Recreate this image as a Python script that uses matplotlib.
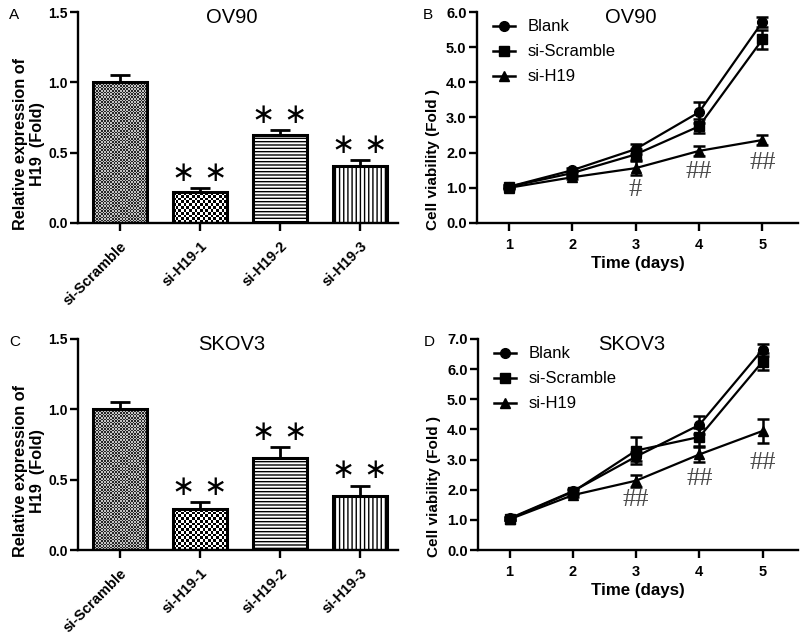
import matplotlib
matplotlib.use("Agg")
import matplotlib.pyplot as plt
from matplotlib.colors import ListedColormap
from matplotlib.lines import Line2D
import numpy as np

plt.rcParams['font.family'] = ['Liberation Sans', 'DejaVu Sans']
plt.rcParams['hatch.linewidth'] = 1.0

# ---- data ----
bar_groups = ["si-Scramble", "si-H19-1", "si-H19-2", "si-H19-3"]
ov90_expr = [1.00, 0.22, 0.625, 0.405]
ov90_err = [0.055, 0.027, 0.035, 0.042]
skov3_expr = [1.00, 0.29, 0.655, 0.385]
skov3_err = [0.055, 0.048, 0.075, 0.073]
bar_signif = ["", "∗ ∗", "∗ ∗", "∗ ∗"]

days = [1, 2, 3, 4, 5]
line_series = ["Blank", "si-Scramble", "si-H19"]
ov90_blank = [1.03, 1.50, 2.10, 3.15, 5.72]
ov90_blank_err = [0.04, 0.05, 0.15, 0.30, 0.15]
ov90_scr = [1.03, 1.42, 1.95, 2.75, 5.22]
ov90_scr_err = [0.04, 0.05, 0.15, 0.20, 0.28]
ov90_h19 = [1.00, 1.30, 1.56, 2.05, 2.36]
ov90_h19_err = [0.03, 0.05, 0.20, 0.15, 0.15]
ov90_hash = ["", "", "#", "##", "##"]
ov90_hash_y = [0, 0, 0.93, 1.44, 1.70]

skov3_blank = [1.05, 1.95, 3.10, 4.15, 6.65]
skov3_blank_err = [0.05, 0.06, 0.15, 0.30, 0.20]
skov3_scr = [1.03, 1.93, 3.30, 3.75, 6.25]
skov3_scr_err = [0.05, 0.06, 0.45, 0.30, 0.28]
skov3_h19 = [1.02, 1.82, 2.30, 3.17, 3.95]
skov3_h19_err = [0.04, 0.05, 0.20, 0.25, 0.40]
skov3_hash = ["", "", "##", "##", "##"]
skov3_hash_y = [0, 0, 1.66, 2.35, 2.90]

W, H = 800, 639
fig = plt.figure(figsize=(W / 100, H / 100), dpi=100)


def box(l, t, r, b):
    return [l / W, 1 - b / H, (r - l) / W, (b - t) / H]


def style_axes(ax, size):
    for s in ["top", "right"]:
        ax.spines[s].set_visible(False)
    for s in ["left", "bottom"]:
        ax.spines[s].set_linewidth(1.7)
    ax.tick_params(width=1.7, length=5.5, labelsize=size, direction="out", pad=2)
    for lab in ax.get_yticklabels() + ax.get_xticklabels():
        lab.set_fontweight("bold")


# fill style per bar
fills = [("checker", 1.6, "#262626", "#c4c4c4"),
         ("checker", 2.7, "black", "white"),
         ("hatch", "-----"),
         ("hatch", "||||")]


def checker_fill(ax, patch, cell_px, c0, c1):
    x0, y0 = patch.get_x(), patch.get_y()
    w, h = patch.get_width(), patch.get_height()
    p0 = ax.transData.transform((x0, y0))
    p1 = ax.transData.transform((x0 + w, y0 + h))
    nx = max(1, int(round((p1[0] - p0[0]) / cell_px)))
    ny = max(1, int(round((p1[1] - p0[1]) / cell_px)))
    arr = np.add.outer(np.arange(ny), np.arange(nx)) % 2
    im = ax.imshow(arr, cmap=ListedColormap([c0, c1]), extent=(x0, x0 + w, y0, y0 + h),
                   aspect="auto", interpolation="nearest", origin="lower", zorder=1.5)
    im.set_clip_path(patch)


def bar_panel(ax, vals, errs, title, letter):
    x = np.arange(len(bar_groups))
    ax.set_xlim(-0.525, 3.475)
    ax.set_ylim(0, 1.5)
    for i in range(len(x)):
        f = fills[i]
        if f[0] == "hatch":
            ax.bar(x[i], vals[i], width=0.67, color="white", edgecolor="black",
                   linewidth=2.2, hatch=f[1], zorder=2)
        else:
            bc = ax.bar(x[i], vals[i], width=0.67, color="none", edgecolor="black",
                        linewidth=2.2, zorder=2)
            checker_fill(ax, bc[0], f[1], f[2], f[3])
    ax.errorbar(x, vals, yerr=[np.zeros(len(errs)), errs], fmt="none",
                ecolor="black", elinewidth=2, capsize=7, capthick=2, zorder=3)
    for i, s in enumerate(bar_signif):
        if s:
            ax.text(x[i], vals[i] + errs[i] + 0.11, s, ha="center", va="center",
                    fontsize=20, family="DejaVu Sans")
    ax.set_xlim(-0.525, 3.475)
    ax.set_ylim(0, 1.5)
    ax.set_yticks([0, 0.5, 1.0, 1.5])
    ax.set_yticklabels(["0.0", "0.5", "1.0", "1.5"])
    ax.set_xticks(x)
    ax.set_xticklabels(bar_groups, rotation=45, ha="right", rotation_mode="anchor")
    ax.set_ylabel("Relative expression of\nH19  (Fold)", fontsize=11.7,
                  fontweight="bold", linespacing=1.15)
    ax.yaxis.set_label_coords(-0.103, 0.375)
    ax.text(0.48, 0.976, title, transform=ax.transAxes, ha="center", va="center",
            fontsize=14.5)
    style_axes(ax, 10)
    ax.tick_params(axis="x", pad=6, labelsize=10.5)
    ax.text(-0.215, 0.985, letter, transform=ax.transAxes, fontsize=11, va="center")


def line_panel(ax, b, be, s, se, h, he, hashes, hash_y, ymax, title, letter):
    markers = ["o", "s", "^"]
    handles = []
    for (v, e, m, lab) in zip([b, s, h], [be, se, he], markers, line_series):
        ax.errorbar(days, v, yerr=e, marker=m, markersize=7, color="black",
                    linewidth=1.6, elinewidth=1.8, capsize=4.5, capthick=1.8)
        handles.append(Line2D([], [], marker=m, markersize=7, color="black",
                              linewidth=1.8, label=lab))
    for d, t, yv in zip(days, hashes, hash_y):
        if t:
            ax.text(d, yv, t, ha="center", va="center", fontsize=19,
                    family="Liberation Serif", color="#4a4a4a")
    ax.set_xlim(0.5, 5.56)
    ax.set_ylim(0, ymax)
    ticks = np.arange(0, ymax + 0.01, 1.0)
    ax.set_yticks(ticks)
    ax.set_yticklabels([f"{v:.1f}" for v in ticks])
    ax.set_xticks(days)
    ax.set_xlabel("Time (days)", fontsize=12.2, fontweight="bold", labelpad=3)
    ax.set_ylabel("Cell viability (Fold )", fontsize=11, fontweight="bold")
    ax.yaxis.set_label_coords(-0.115, 0.30)
    ax.text(0.48, 0.976, title, transform=ax.transAxes, ha="center", va="center",
            fontsize=14.5)
    ax.legend(handles=handles, loc="upper left", frameon=False, fontsize=12,
              bbox_to_anchor=(0.05, 0.965), borderaxespad=0, borderpad=0,
              handlelength=1.3, handletextpad=0.75, labelspacing=0.6)
    style_axes(ax, 10.5)
    ax.tick_params(axis="x", pad=5)
    ax.text(-0.17, 0.985, letter, transform=ax.transAxes, fontsize=11, va="center")


axA = fig.add_axes(box(78, 12, 398, 223))
bar_panel(axA, ov90_expr, ov90_err, "OV90", "A")
axC = fig.add_axes(box(78, 339, 398, 550))
bar_panel(axC, skov3_expr, skov3_err, "SKOV3", "C")
axB = fig.add_axes(box(477, 12, 798, 223))
line_panel(axB, ov90_blank, ov90_blank_err, ov90_scr, ov90_scr_err, ov90_h19,
           ov90_h19_err, ov90_hash, ov90_hash_y, 6.0, "OV90", "B")
axD = fig.add_axes(box(478, 339, 798, 550))
line_panel(axD, skov3_blank, skov3_blank_err, skov3_scr, skov3_scr_err, skov3_h19,
           skov3_h19_err, skov3_hash, skov3_hash_y, 7.0, "SKOV3", "D")

fig.savefig("out.png", dpi=100)
